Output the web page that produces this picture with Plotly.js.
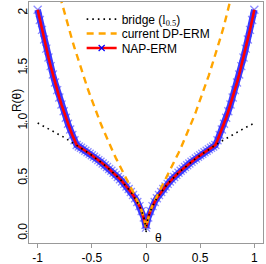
<!DOCTYPE html>
<html>
<head>
<meta charset="utf-8">
<script src="https://cdn.plot.ly/plotly-3.0.1.min.js"></script>
<style>html,body{margin:0;padding:0;background:#fff;}#chart{width:266px;height:264px;}</style>
</head>
<body>
<div id="chart"></div>
<script>
// theta grid
const theta = [-1.00,-0.98,-0.96,-0.94,-0.92,-0.90,-0.88,-0.86,-0.84,-0.82,-0.80,-0.78,-0.76,-0.74,-0.72,-0.70,-0.68,-0.66,-0.64,-0.62,-0.60,-0.58,-0.56,-0.54,-0.52,-0.50,-0.48,-0.46,-0.44,-0.42,-0.40,-0.38,-0.36,-0.34,-0.32,-0.30,-0.28,-0.26,-0.24,-0.22,-0.20,-0.18,-0.16,-0.14,-0.12,-0.10,-0.08,-0.06,-0.04,-0.02,-0.005,0,0.005,0.02,0.04,0.06,0.08,0.10,0.12,0.14,0.16,0.18,0.20,0.22,0.24,0.26,0.28,0.30,0.32,0.34,0.36,0.38,0.40,0.42,0.44,0.46,0.48,0.50,0.52,0.54,0.56,0.58,0.60,0.62,0.64,0.66,0.68,0.70,0.72,0.74,0.76,0.78,0.80,0.82,0.84,0.86,0.88,0.90,0.92,0.94,0.96,0.98,1.00];
// bridge (l0.5)
const bridge = [1.0,0.99,0.98,0.97,0.959,0.949,0.938,0.927,0.917,0.906,0.894,0.883,0.872,0.86,0.849,0.837,0.825,0.812,0.8,0.787,0.775,0.762,0.748,0.735,0.721,0.707,0.693,0.678,0.663,0.648,0.632,0.616,0.6,0.583,0.566,0.548,0.529,0.51,0.49,0.469,0.447,0.424,0.4,0.374,0.346,0.316,0.283,0.245,0.2,0.141,0.071,0,0.071,0.141,0.2,0.245,0.283,0.316,0.346,0.374,0.4,0.424,0.447,0.469,0.49,0.51,0.529,0.548,0.566,0.583,0.6,0.616,0.632,0.648,0.663,0.678,0.693,0.707,0.721,0.735,0.748,0.762,0.775,0.787,0.8,0.812,0.825,0.837,0.849,0.86,0.872,0.883,0.894,0.906,0.917,0.927,0.938,0.949,0.959,0.97,0.98,0.99,1.0];
// current DP-ERM
const dperm = [3.0,2.911,2.823,2.737,2.652,2.569,2.487,2.407,2.328,2.250,2.174,2.100,2.027,1.955,1.885,1.817,1.749,1.684,1.619,1.556,1.495,1.434,1.376,1.318,1.262,1.207,1.154,1.101,1.051,1.001,0.953,0.905,0.859,0.814,0.770,0.728,0.686,0.645,0.605,0.566,0.527,0.489,0.451,0.413,0.375,0.336,0.296,0.252,0.203,0.142,0.071,0.05,0.071,0.142,0.203,0.252,0.296,0.336,0.375,0.413,0.451,0.489,0.527,0.566,0.605,0.645,0.686,0.728,0.770,0.814,0.859,0.905,0.953,1.001,1.051,1.101,1.154,1.207,1.262,1.318,1.376,1.434,1.495,1.556,1.619,1.684,1.749,1.817,1.885,1.955,2.027,2.100,2.174,2.250,2.328,2.407,2.487,2.569,2.652,2.737,2.823,2.911,3.0];
// NAP-ERM
const nap = [2.030,1.937,1.847,1.760,1.676,1.595,1.517,1.441,1.368,1.299,1.232,1.168,1.107,1.048,0.993,0.941,0.891,0.844,0.8,0.787,0.775,0.762,0.748,0.735,0.721,0.707,0.693,0.678,0.663,0.648,0.632,0.616,0.6,0.583,0.566,0.548,0.529,0.51,0.49,0.469,0.447,0.424,0.4,0.374,0.346,0.316,0.283,0.245,0.2,0.141,0.075,0.05,0.075,0.141,0.2,0.245,0.283,0.316,0.346,0.374,0.4,0.424,0.447,0.469,0.49,0.51,0.529,0.548,0.566,0.583,0.6,0.616,0.632,0.648,0.663,0.678,0.693,0.707,0.721,0.735,0.748,0.762,0.775,0.787,0.8,0.844,0.891,0.941,0.993,1.048,1.107,1.168,1.232,1.299,1.368,1.441,1.517,1.595,1.676,1.760,1.847,1.937,2.030];

const seriesNames = ['bridge (<span style="font-family:Liberation Serif">l<sub>0.5</sub></span>)', 'current DP-ERM', 'NAP-ERM'];
const xTickVals = [-1,-0.5,0,0.5,1];
const xTickText = ['-1','-0.5','0','0.5','1'];
const yTickVals = [0,0.5,1,1.5,2];
const yTickText = ['0.0','0.5','1.0','1.5','2'];

const FONT = 'Liberation Sans, Arial, Helvetica, sans-serif';

const traces = [
  {x: theta, y: nap, mode: 'lines+markers', showlegend: false, hoverinfo: 'skip',
   line: {color: 'rgba(25,25,255,0.85)', width: 6.5},
   marker: {symbol: 'x-thin-open', size: 8, color: 'rgba(50,50,255,0.55)', line: {width: 1.3, color: 'rgba(50,50,255,0.55)'}}},
  {x: theta, y: nap, mode: 'lines', showlegend: false, hoverinfo: 'skip',
   line: {color: '#ff0000', width: 2.6}},
  {x: theta, y: dperm, mode: 'lines', name: seriesNames[1], legend: 'legend2',
   line: {color: '#ffa500', width: 2.4, dash: '7px,5px'}},
  {x: theta, y: bridge, mode: 'lines', name: seriesNames[0], legend: 'legend',
   line: {color: '#000000', width: 1.6, dash: '1.6px,4px'}},
  {x: [null], y: [null], mode: 'lines+markers', name: seriesNames[2], legend: 'legend3',
   line: {color: '#ff0000', width: 2.6},
   marker: {symbol: 'x-thin-open', size: 6, color: '#0000ff', line: {width: 1.2, color: '#0000ff'}}}
];

const legBase = {xanchor: 'left', yanchor: 'middle', bgcolor: 'rgba(0,0,0,0)', borderwidth: 0,
  font: {family: FONT, size: 12, color: '#000'}};

const layout = {
  width: 266, height: 264,
  margin: {l: 29, r: 3, t: 2, b: 21, pad: 0},
  paper_bgcolor: '#fff', plot_bgcolor: '#fff',
  font: {family: FONT, size: 12, color: '#000'},
  xaxis: {range: [-1.08, 1.08], tickmode: 'array', tickvals: xTickVals, ticktext: xTickText,
    ticks: 'outside', ticklen: 4, tickwidth: 1, tickcolor: '#999',
    showline: true, linecolor: '#999', linewidth: 1, mirror: true,
    showgrid: false, zeroline: false, tickfont: {family: FONT, size: 12, color: '#000'}},
  yaxis: {range: [-0.09, 2.1], tickmode: 'array', tickvals: yTickVals, ticktext: yTickText,
    tickangle: -90, ticks: 'outside', ticklen: 4, tickwidth: 1, tickcolor: '#999', ticklabelstandoff: -8,
    showline: true, linecolor: '#999', linewidth: 1, mirror: true,
    showgrid: false, zeroline: false, tickfont: {family: FONT, size: 12, color: '#000'}},
  legend: Object.assign({x: 0.225, y: 0.929}, legBase),
  legend2: Object.assign({x: 0.225, y: 0.869}, legBase),
  legend3: Object.assign({x: 0.225, y: 0.809}, legBase),
  annotations: [
    {xref: 'paper', yref: 'paper', x: -0.05, y: 0.59, text: 'R(θ)', textangle: -90,
     showarrow: false, xanchor: 'center', yanchor: 'middle', font: {family: FONT, size: 12, color: '#000'}},
    {xref: 'x', yref: 'y', x: 0.116, y: -0.04, text: 'θ', showarrow: false,
     xanchor: 'center', yanchor: 'middle', font: {family: FONT, size: 12, color: '#000'}}
  ]
};

Plotly.newPlot('chart', traces, layout, {displayModeBar: false, staticPlot: true});
</script>
</body>
</html>
